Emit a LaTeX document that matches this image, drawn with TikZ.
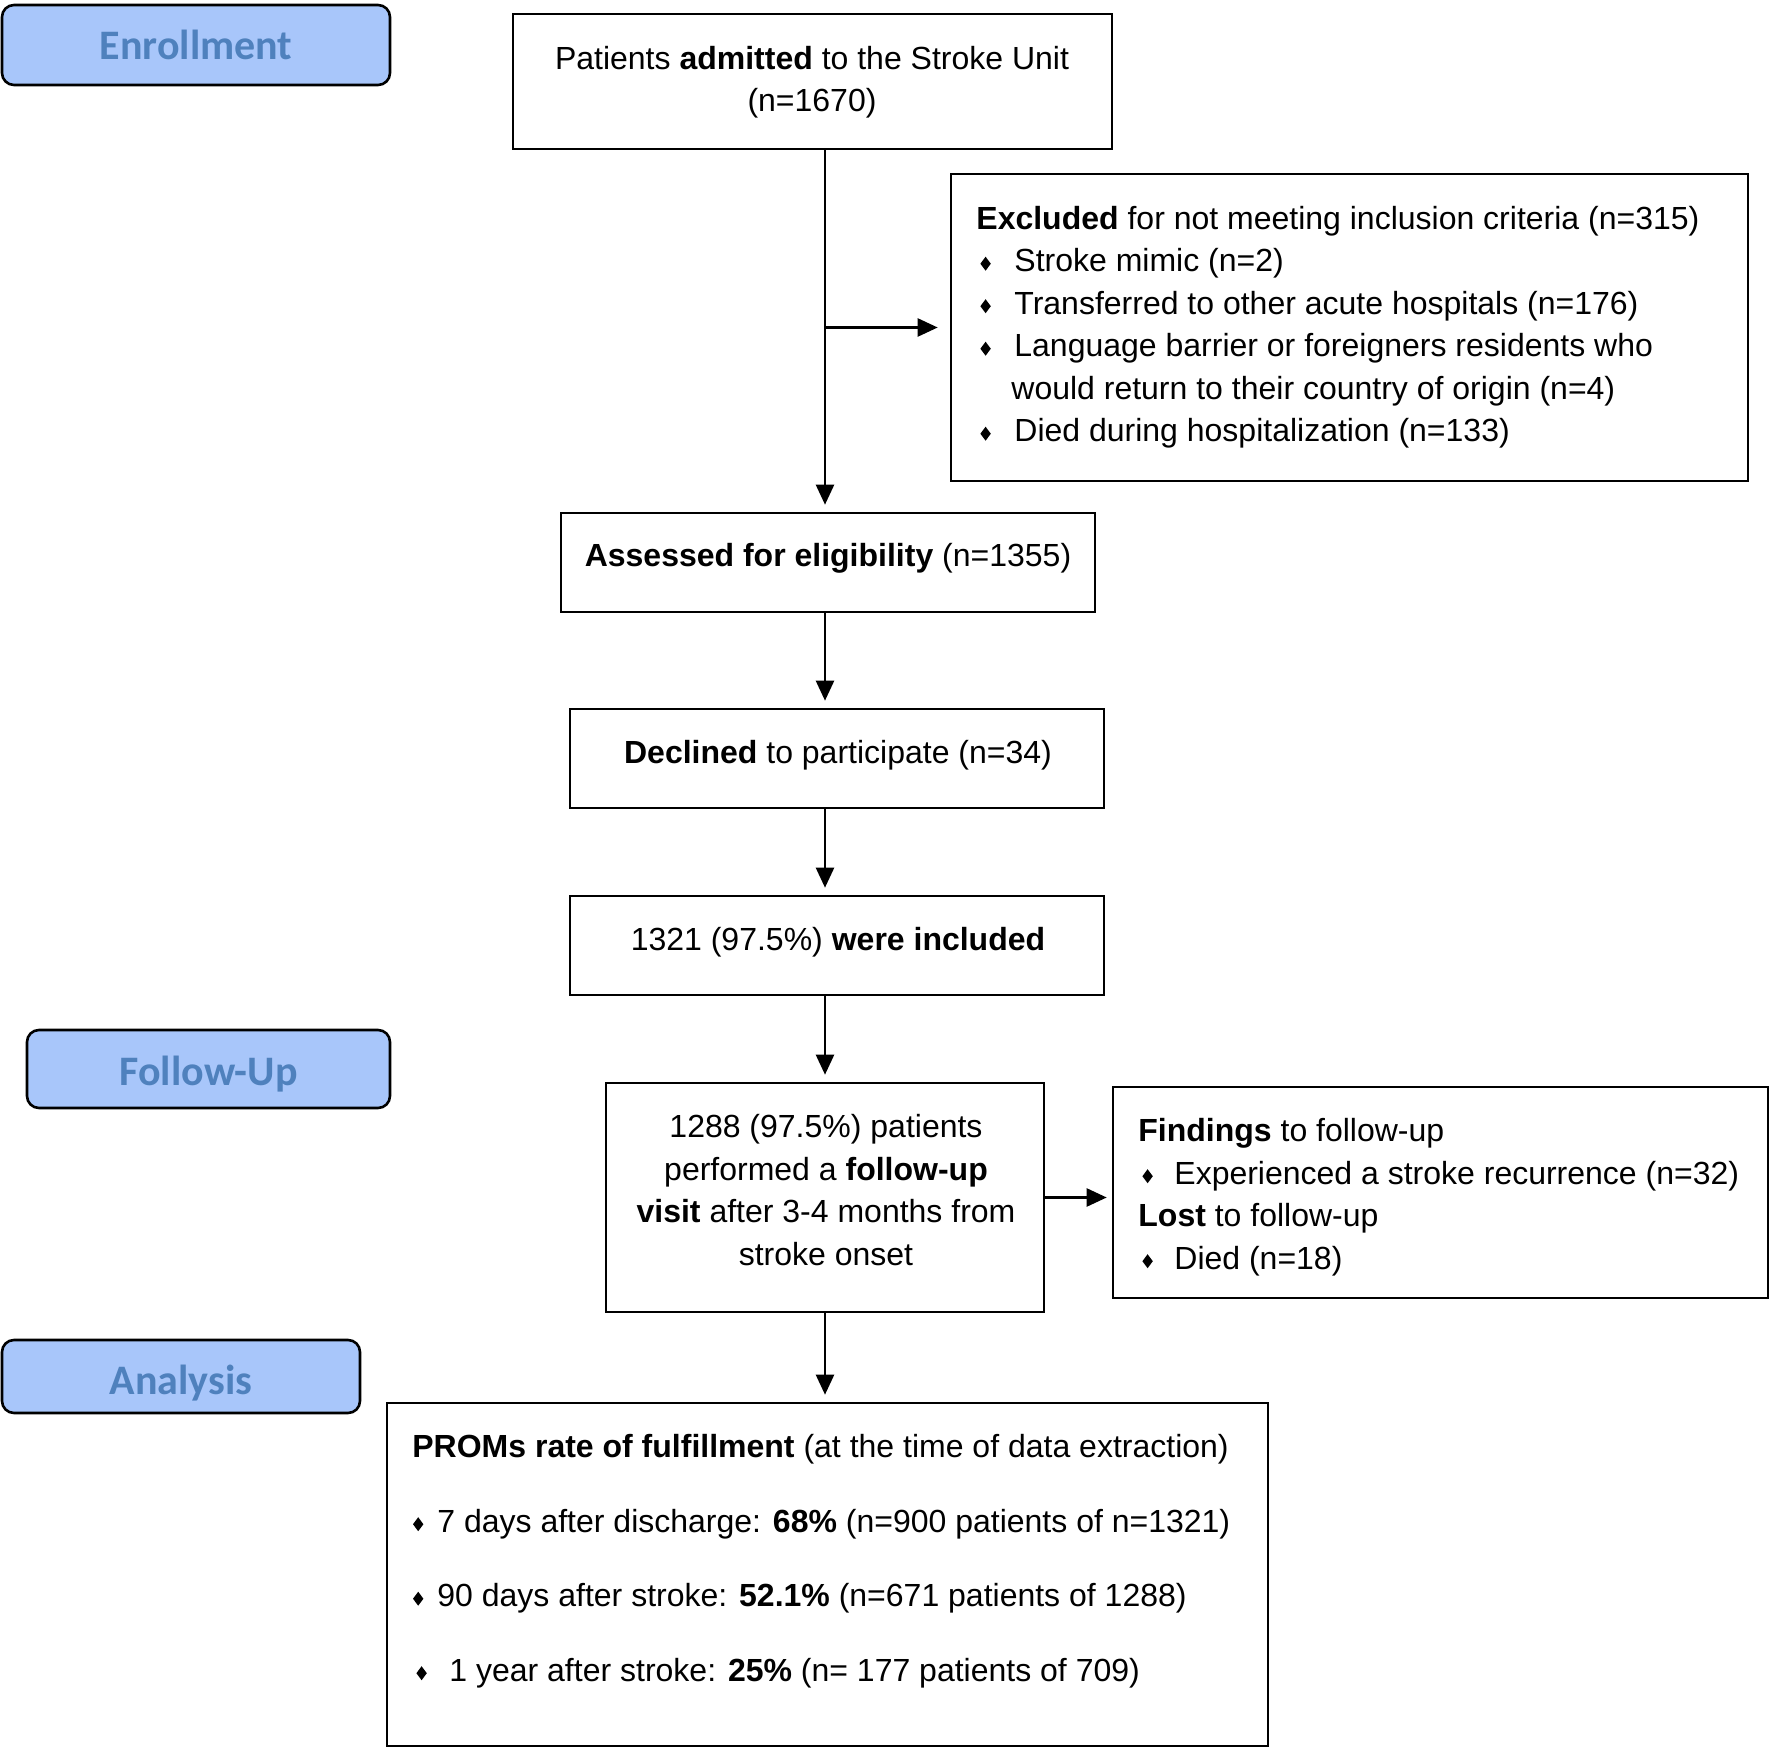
\documentclass[tikz,border=0pt]{standalone}
\usepackage{fontspec}
\setmainfont{Liberation Sans}
\newfontfamily\lblfont{Carlito}
\usetikzlibrary{arrows.meta}
\definecolor{lblfill}{RGB}{168,198,250}
\definecolor{lbltext}{RGB}{79,129,189}
\newcommand{\dmd}{\tikz[baseline=0pt]\fill[black] (0pt,0.4pt) -- (2.6pt,3.9pt) -- (0pt,7.4pt) -- (-2.6pt,3.9pt) -- cycle;}
\newcommand{\bul}[2]{\makebox[#1][l]{\hspace{#2}\dmd}}
\newcommand{\lowr}[2]{\raisebox{-#1}[\height][\depth]{#2}}
\begin{document}
\begin{tikzpicture}[x=0.5pt,y=-0.5pt,
  sz/.style 2 args={minimum width=#1*0.5pt, minimum height=#2*0.5pt},
  box/.style={draw=black, line width=1.3pt, inner sep=0pt, rectangle},
  lbl/.style={draw=black, line width=1.3pt, fill=lblfill, rounded corners=6pt, text=lbltext, font=\lblfont\bfseries\fontsize{21}{25}\selectfont, inner sep=0pt},
  txt/.style={inner sep=0pt, font=\fontsize{16}{21.25}\selectfont},
  arr/.style={line width=1.2pt, -{Triangle[length=10pt,width=9pt]}, shorten >=3.5pt}]
\useasboundingbox (0,0) rectangle (1774,1748);
% boxes
\node[box,sz={599}{135}] (admit) at (812.5,81.5) {};
\node[box,sz={797}{307}] (excl) at (1349.5,327.5) {};
\node[box,sz={534}{99}] (assess) at (828,562.5) {};
\node[box,sz={534}{99}] (decl) at (837,758.5) {};
\node[box,sz={534}{99}] (incl) at (837,945.5) {};
\node[box,sz={438}{229}] (fu) at (825,1197.5) {};
\node[box,sz={655}{211}] (find) at (1440.5,1192.5) {};
\node[box,sz={881}{343}] (proms) at (827.5,1574.5) {};
% stage labels
\node[lbl,sz={388}{80}] (enr) at (196,45) {Enrollment};
\node[lbl,sz={363}{78}] (fol) at (208.5,1069) {\lowr{2.5pt}{Follow-Up}};
\node[lbl,sz={358}{73}] (ana) at (181,1376.5) {\lowr{3.5pt}{Analysis}};
% texts
\node[txt,align=center] (admitT) at (812,82) {Patients \textbf{admitted} to the Stroke Unit\\(n=1670)};
\node[txt,align=left,anchor=west] (exclT) at (976,327) {\textbf{Excluded} for not meeting inclusion criteria (n=315)\\
\bul{19pt}{2pt}Stroke mimic (n=2)\\
\bul{19pt}{2pt}Transferred to other acute hospitals (n=176)\\
\bul{19pt}{2pt}Language barrier or foreigners residents who\\
\hspace*{17.5pt}would return to their country of origin (n=4)\\
\bul{19pt}{2pt}Died during hospitalization (n=133)};
\node[txt] (assessT) at (828,558.5) {\textbf{Assessed for eligibility} (n=1355)};
\node[txt] (declT) at (838,755.5) {\textbf{Declined} to participate (n=34)};
\node[txt] (inclT) at (838,942.5) {1321 (97.5\%) \textbf{were included}};
\node[txt,align=center] (fuT) at (826,1190) {1288 (97.5\%) patients\\performed a \textbf{follow-up}\\\textbf{visit} after 3-4 months from\\stroke onset};
\node[txt,align=left,anchor=west] (findT) at (1138,1197) {\textbf{Findings} to follow-up\\
\bul{18pt}{2pt}Experienced a stroke recurrence (n=32)\\
\textbf{Lost} to follow-up\\
\bul{18pt}{2pt}Died (n=18)};
\node[txt,align=left,anchor=west] (promsT) at (412,1561) {\textbf{PROMs rate of fulfillment} (at the time of data extraction)\\[16pt]
\bul{12.5pt}{0.3pt}7 days after discharge: \textbf{68\%} (n=900 patients of n=1321)\\[16pt]
\bul{12.5pt}{0.3pt}90 days after stroke: \textbf{52.1\%} (n=671 patients of 1288)\\[16pt]
\bul{18.5pt}{2pt}1 year after stroke: \textbf{25\%} (n= 177 patients of 709)};
% connectors
\coordinate (spine) at (825,0);
\draw[arr] (admit.south -| spine) -- (assess.north -| spine);
\draw[arr,shorten >=6pt] (excl.west -| spine) -- (excl.west);
\draw[arr] (assess.south -| spine) -- (decl.north -| spine);
\draw[arr] (decl.south -| spine) -- (incl.north -| spine);
\draw[arr] (incl.south -| spine) -- (fu.north -| spine);
\draw[arr,shorten >=2.5pt] (fu.east) -- (fu.east -| find.west);
\draw[arr] (fu.south -| spine) -- (proms.north -| spine);
\end{tikzpicture}
\end{document}
